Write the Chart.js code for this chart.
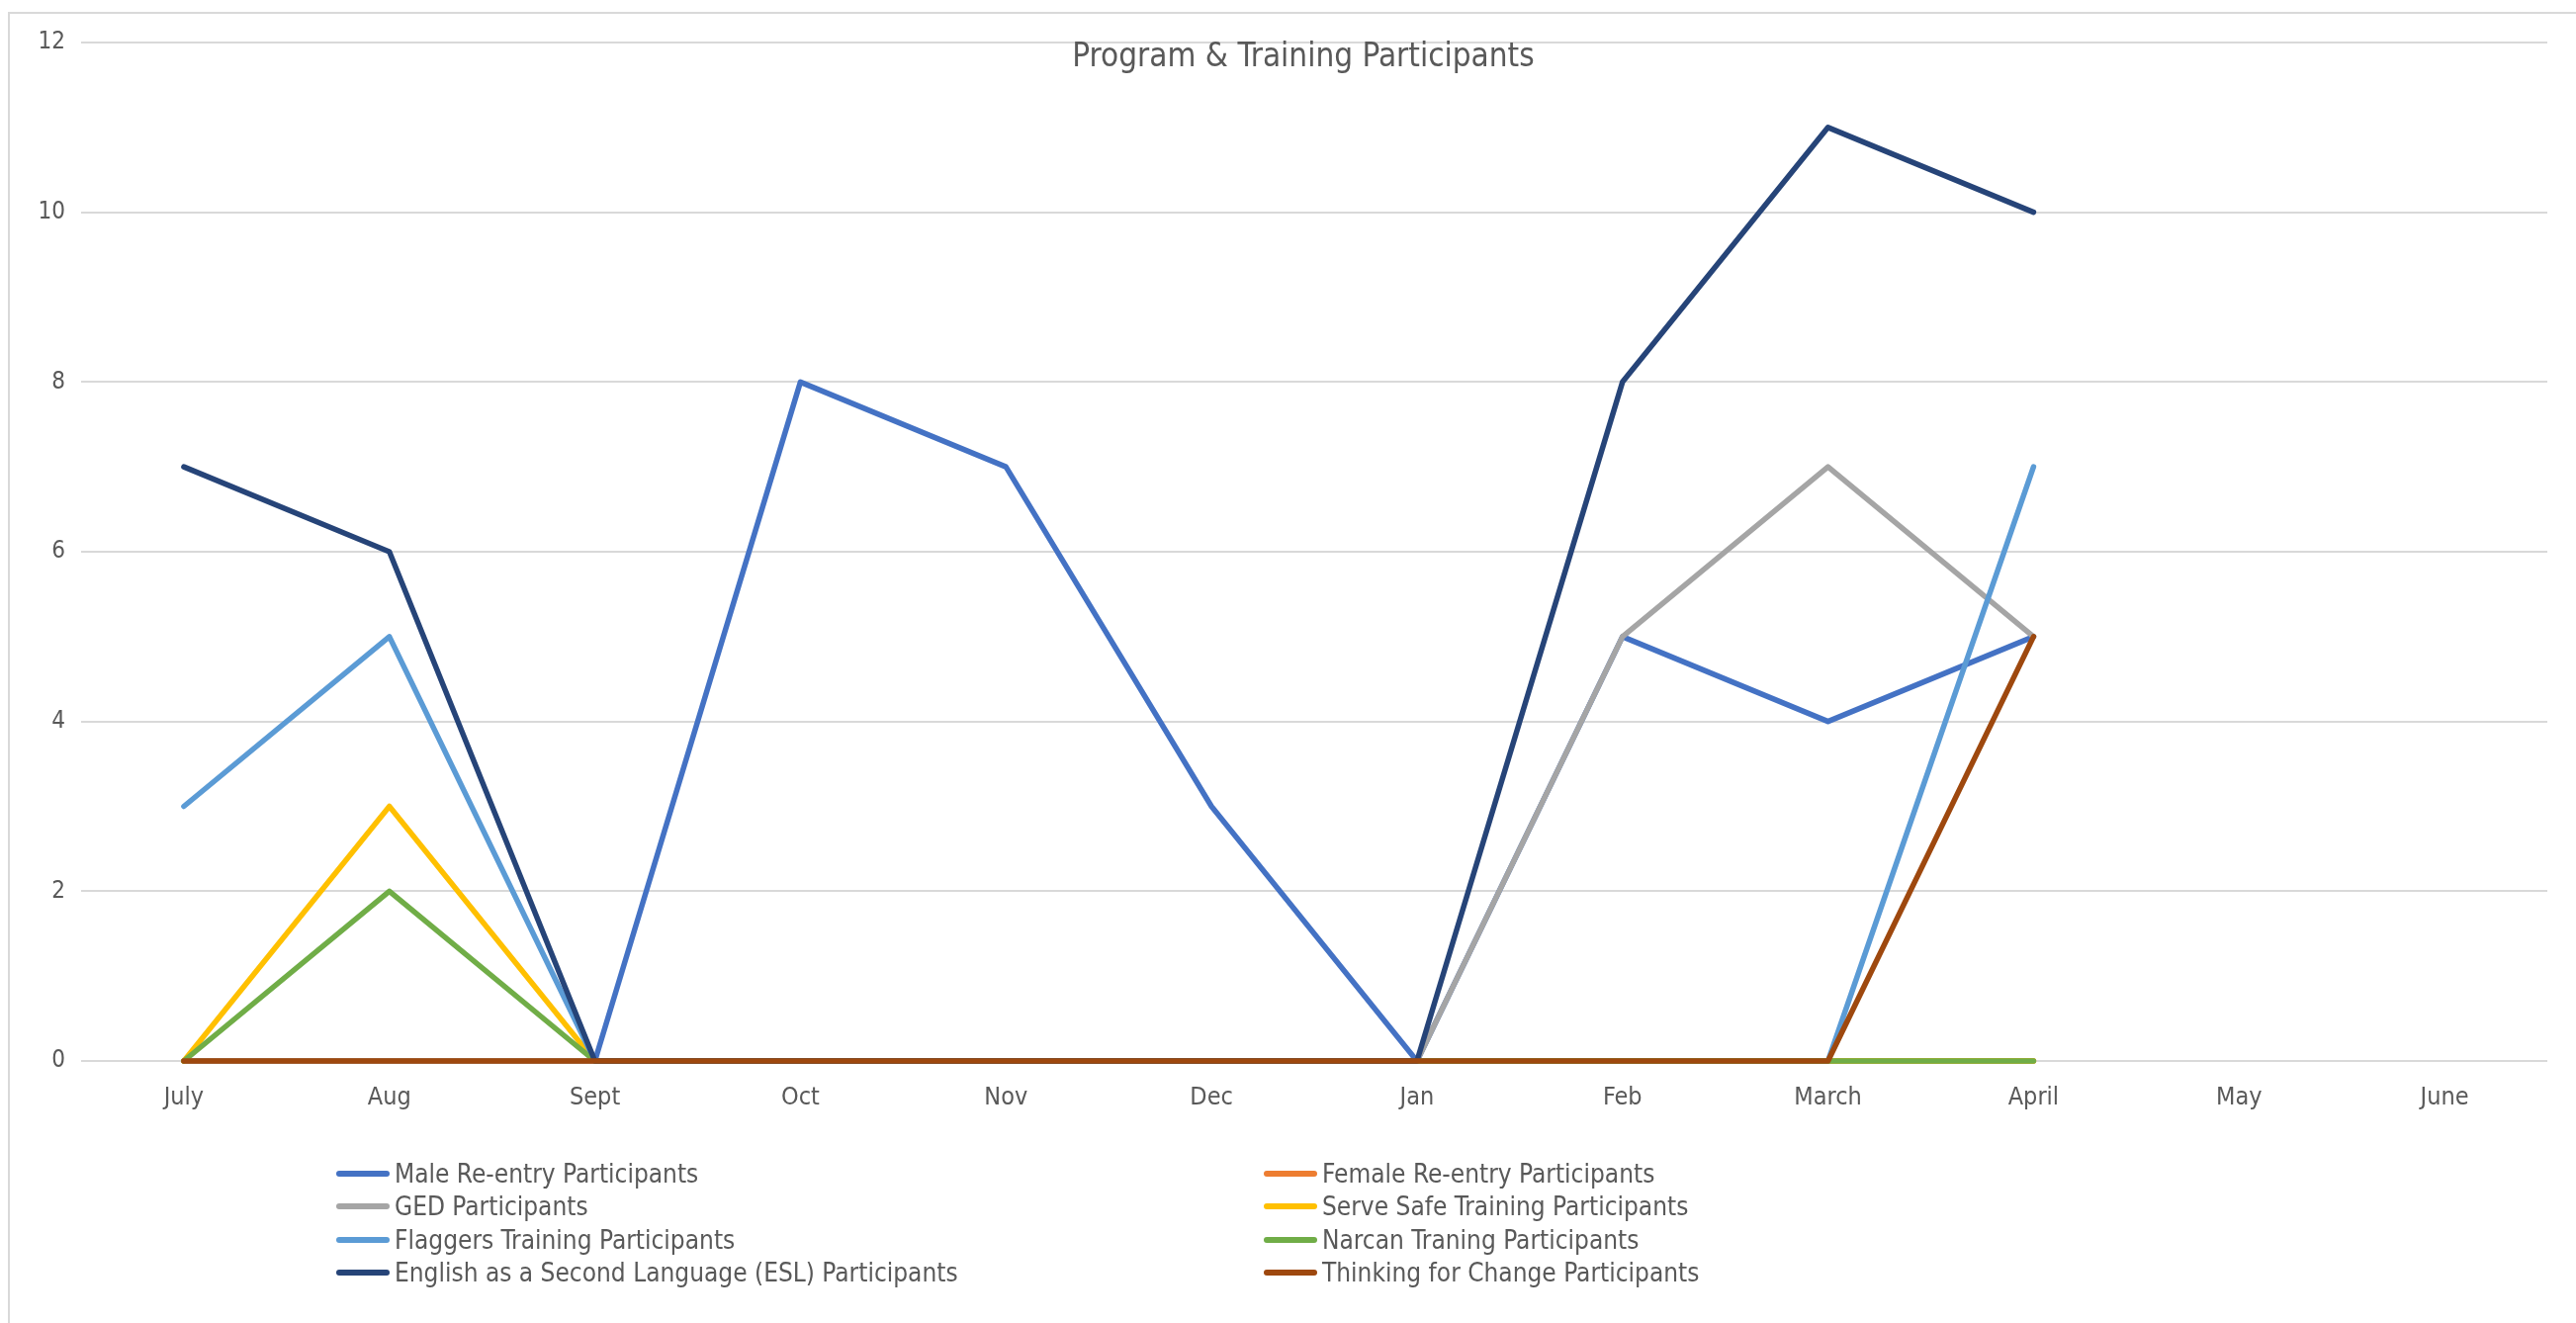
<!DOCTYPE html>
<html>
<head>
<meta charset="utf-8">
<title>Program & Training Participants</title>
<script src="https://cdn.jsdelivr.net/npm/chart.js@4/dist/chart.umd.min.js"></script>
<style>
  html, body { margin: 0; padding: 0; background: #fff; }
  #wrap { position: relative; width: 2605px; height: 1338px; overflow: hidden;
          font-family: 'Liberation Sans Narrow', 'DejaVu Sans Condensed', 'Open Sans', sans-serif; color: #595959; }
  #frame { position: absolute; left: 8px; top: 12px; right: -10px; bottom: -10px;
           border-left: 2px solid #d9d9d9; border-top: 2px solid #d9d9d9; }
  #chart-box { position: absolute; left: 0; top: 0; width: 2605px; height: 1338px; }
  #title { position: absolute; left: 1318px; top: 55px; transform: translate(-50%, -50%);
           font-size: 33px; white-space: nowrap; }
  .lg-item { position: absolute; display: flex; align-items: center; font-size: 26px; white-space: nowrap;
             transform: translateY(-50%); }
  .lg-swatch { width: 54px; height: 6px; border-radius: 3px; margin-right: 5px; }
</style>
</head>
<body>
<div id="wrap">
  <div id="frame"></div>
  <div id="chart-box"><canvas id="chart"></canvas></div>
  <div id="title">Program &amp; Training Participants</div>
  <div id="legend"></div>
</div>
<script>
  'use strict';

  // --- Données ---
  const months = ['July', 'Aug', 'Sept', 'Oct', 'Nov', 'Dec', 'Jan', 'Feb', 'March', 'April', 'May', 'June'];

  const maleReentry   = [0, 0, 0, 8, 7, 3, 0, 5, 4, 5, null, null];
  const femaleReentry = [0, 0, 0, 0, 0, 0, 0, 0, 0, 0, null, null];
  const gedPart       = [0, 0, 0, 0, 0, 0, 0, 5, 7, 5, null, null];
  const serveSafe     = [0, 3, 0, 0, 0, 0, 0, 0, 0, 0, null, null];
  const flaggers      = [3, 5, 0, 0, 0, 0, 0, 0, 0, 7, null, null];
  const narcan        = [0, 2, 0, 0, 0, 0, 0, 0, 0, 0, null, null];
  const eslPart       = [7, 6, 0, 0, 0, 0, 0, 8, 11, 10, null, null];
  const thinkChange   = [0, 0, 0, 0, 0, 0, 0, 0, 0, 5, null, null];

  const seriesNames = [
    'Male Re-entry Participants',
    'Female Re-entry Participants',
    'GED Participants',
    'Serve Safe Training Participants',
    'Flaggers Training Participants',
    'Narcan Traning Participants',
    'English as a Second Language (ESL) Participants',
    'Thinking for Change Participants',
  ];
  const seriesValues = [maleReentry, femaleReentry, gedPart, serveSafe, flaggers, narcan, eslPart, thinkChange];
  const seriesColors = ['#4472C4', '#ED7D31', '#A5A5A5', '#FFC000', '#5B9BD5', '#70AD47', '#264478', '#9E480E'];

  const yTicks = [0, 2, 4, 6, 8, 10, 12];

  const FONT = "'Liberation Sans Narrow', 'DejaVu Sans Condensed', 'Open Sans', sans-serif";
  const TEXT = '#595959';
  const GRID = '#d9d9d9';

  // Excel dessine la dernière série au-dessus
  const datasets = seriesNames.map((name, i) => ({
    label: name,
    data: seriesValues[i],
    borderColor: seriesColors[i],
    backgroundColor: seriesColors[i],
    borderWidth: 5.5,
    pointRadius: 0,
    pointHoverRadius: 0,
    tension: 0,
    fill: false,
    spanGaps: false,
    clip: false,
    borderCapStyle: 'round',
    borderJoinStyle: 'round',
    order: seriesNames.length - i,
  }));

  new Chart(document.getElementById('chart'), {
    type: 'line',
    data: { labels: months, datasets },
    options: {
      responsive: true,
      maintainAspectRatio: false,
      devicePixelRatio: 1,
      animation: false,
      layout: { padding: { top: 43, right: 29, bottom: 205, left: 0 } },
      plugins: {
        legend: { display: false },
        title: { display: false },
        tooltip: { enabled: false },
      },
      scales: {
        x: {
          offset: true,
          grid: { display: false },
          border: { display: false },
          ticks: { color: TEXT, font: { family: FONT, size: 25 }, padding: 14, maxRotation: 0, autoSkip: false },
          afterFit: (s) => { s.height = 60; },
        },
        y: {
          min: 0,
          max: 12,
          afterBuildTicks: (s) => { s.ticks = yTicks.map(v => ({ value: v })); },
          grid: { color: GRID, lineWidth: 2, drawTicks: false },
          border: { display: false },
          ticks: { color: TEXT, font: { family: FONT, size: 24 }, padding: 16 },
          afterFit: (s) => { s.width = 82; },
        },
      },
    },
  });

  // --- Légende HTML en deux colonnes ---
  const legend = document.getElementById('legend');
  const colX = [340, 1278];
  const rowY = [1187, 1220, 1254, 1287];
  seriesNames.forEach((name, i) => {
    const item = document.createElement('div');
    item.className = 'lg-item';
    item.style.left = colX[i % 2] + 'px';
    item.style.top = rowY[Math.floor(i / 2)] + 'px';
    const sw = document.createElement('span');
    sw.className = 'lg-swatch';
    sw.style.background = seriesColors[i];
    const txt = document.createElement('span');
    txt.textContent = name;
    item.appendChild(sw);
    item.appendChild(txt);
    legend.appendChild(item);
  });
</script>
</body>
</html>
